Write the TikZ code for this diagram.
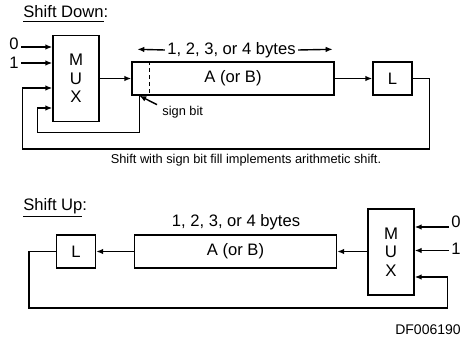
\documentclass[tikz,border=0pt]{standalone}
\usepackage{fontspec}
\setmainfont{Liberation Sans}
\usetikzlibrary{calc,positioning,arrows.meta}
\tikzset{
mux_box/.style={rectangle, draw, line width=0.7pt, minimum width=23pt, minimum height=43pt, align=center, inner sep=0pt, font=\fontsize{8.4}{9.3}\selectfont},
reg_box/.style={rectangle, draw, line width=0.7pt, minimum width=101pt, minimum height=16.5pt, font=\fontsize{8.3}{9.2}\selectfont},
latch_box/.style={rectangle, draw, line width=0.7pt, minimum width=19.5pt, minimum height=16.5pt, font=\fontsize{8.3}{9.2}\selectfont},
big_text/.style={inner sep=1pt, font=\fontsize{8.3}{9.2}\selectfont},
small_text/.style={inner sep=1pt, font=\fontsize{6.4}{7.5}\selectfont},
wire/.style={line width=0.7pt},
wire_arrow/.style={line width=0.7pt, -{Latex[length=3.5pt,width=2.8pt]}}
}

\begin{document}
\begin{tikzpicture}[x=0.5pt,y=-0.5pt]
    \useasboundingbox (0,0) rectangle (467,337);
    \node[big_text, anchor=base west] (title_1) at (21,18) {\underline{Shift Down}:};
    \node[mux_box] (mux_1) at (76,78.5) {M\\U\\X};
    \node[reg_box] (a_1) at (233,78.5) {A (or B)};
    \node[latch_box] (l_1) at (392.5,78.5) {L};
    \node[big_text, anchor=east] (in_0_1) at (21,44) {0};
    \node[big_text, anchor=east] (in_1_1) at (21,63) {1};
    \node[big_text] (bytes_1) at (231.5,50) {1, 2, 3, or 4 bytes};
    \node[small_text, anchor=west] (sign_1) at (160,112) {sign bit};
    \node[small_text] (caption_1) at (246,160) {Shift with sign bit fill implements arithmetic shift.};
    \coordinate (mux_1_in1) at ($(mux_1.west)+(0,-31.5)$);
    \coordinate (mux_1_in2) at ($(mux_1.west)+(0,-15.5)$);
    \coordinate (mux_1_in3) at ($(mux_1.west)+(0,9.5)$);
    \coordinate (mux_1_in4) at ($(mux_1.west)+(0,29.5)$);
    \coordinate (sign_pt_1) at ($(a_1.south west)+(8,0)$);
    \draw[wire_arrow] (in_0_1.east |- mux_1_in1) -- (mux_1_in1);
    \draw[wire_arrow] (in_1_1.east |- mux_1_in2) -- (mux_1_in2);
    \draw[wire_arrow] (mux_1.east) -- (a_1.west);
    \draw[wire_arrow] (a_1.east) -- (l_1.west);
    \draw[wire, dash pattern=on 2pt off 1.5pt] ($(a_1.north west)+(18,0)$) -- ($(a_1.south west)+(18,0)$);
    \draw[wire_arrow] (bytes_1.west) -- ($(a_1.north west)+(6,-12)$);
    \draw[wire_arrow] (bytes_1.east) -- ($(a_1.north east)+(-2,-12)$);
    \draw[wire_arrow] ($(sign_1.north west)+(-3,1)$) -- (sign_pt_1);
    \draw[wire_arrow] (sign_pt_1) -- ++(0,37) -| ($(mux_1_in4)+(-15,0)$) -- (mux_1_in4);
    \draw[wire_arrow] (l_1.east) -- ++(17,0) -- ++(0,70.5) -| ($(mux_1_in3)+(-30,0)$) -- (mux_1_in3);

    \node[big_text, anchor=base west] (title_2) at (21,210) {\underline{Shift Up}:};
    \node[mux_box] (mux_2) at (391,252) {M\\U\\X};
    \node[reg_box] (a_2) at (235.5,251.5) {A (or B)};
    \node[latch_box] (l_2) at (76,251.5) {L};
    \node[big_text, anchor=west] (in_0_2) at (449,222) {0};
    \node[big_text, anchor=west] (in_1_2) at (449,249) {1};
    \node[big_text] (bytes_2) at (236,222) {1, 2, 3, or 4 bytes};
    \node[font=\fontsize{7}{8}\selectfont, inner sep=1pt] (code_2) at (428,330) {DF006190};
    \coordinate (mux_2_in1) at ($(mux_2.east)+(0,-25)$);
    \coordinate (mux_2_in2) at ($(mux_2.east)+(0,-1.5)$);
    \coordinate (mux_2_in3) at ($(mux_2.east)+(0,25)$);
    \draw[wire_arrow] (in_0_2.west |- mux_2_in1) -- (mux_2_in1);
    \draw[wire_arrow] (in_1_2.west |- mux_2_in2) -- (mux_2_in2);
    \draw[wire_arrow] (mux_2.west |- a_2) -- (a_2.east);
    \draw[wire_arrow] (a_2.west) -- (l_2.east);
    \draw[wire_arrow] (l_2.west) -- ++(-27,0) |- ($(mux_2_in3)+(33,31)$) -- ++(0,-31) -- (mux_2_in3);
\end{tikzpicture}
\end{document}
